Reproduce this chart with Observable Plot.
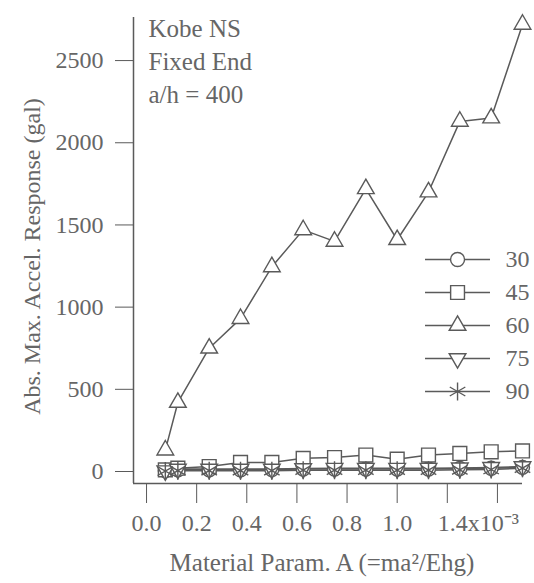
<!DOCTYPE html>
<html>
<head>
<meta charset="utf-8">
<script src="https://cdn.jsdelivr.net/npm/d3@7"></script>
<script src="https://cdn.jsdelivr.net/npm/@observablehq/plot@0.6"></script>
<style>
  html, body { margin: 0; padding: 0; background: #fff; }
  #wrap { position: relative; width: 534px; height: 583px; }
  #legend { position: absolute; left: 420px; top: 240px; }
  svg { font-family: "Liberation Serif", "DejaVu Serif", serif; }
</style>
</head>
<body>
<div id="wrap"><div id="chart"></div><div id="legend"></div></div>
<script>
// Material parameter A (x 10^-3)
const paramA = [0.075, 0.125, 0.25, 0.375, 0.5, 0.625, 0.75, 0.875, 1.0, 1.125, 1.25, 1.375, 1.5];
// Abs. max. acceleration response (gal) per angle
const series30 = [5, 10, 10, 10, 12, 15, 15, 15, 15, 15, 18, 20, 25];
const series45 = [10, 20, 30, 55, 55, 80, 85, 100, 75, 100, 110, 120, 125];
const series60 = [130, 420, 750, 930, 1245, 1470, 1400, 1720, 1410, 1700, 2130, 2150, 2720];
const series75 = [5, 15, 15, 15, 15, 18, 20, 20, 20, 20, 22, 25, 30];
const series90 = [3, 5, 5, 5, 5, 8, 8, 8, 8, 8, 10, 12, 20];

const seriesNames = ["30", "45", "60", "75", "90"];
const xTicks = [0, 0.2, 0.4, 0.6, 0.8, 1.0, 1.2, 1.4];
const xTickLabels = ["0.0", "0.2", "0.4", "0.6", "0.8", "1.0", "", ""];
const xLastTick = [1.4];
const xLastTickLabel = "1.4x10\u207B\u00B3";
const yTicks = [0, 500, 1000, 1500, 2000, 2500];
const noteLines = ["Kobe NS", "Fixed End", "a/h = 400"];
const xTitle = "Material Param. A (=ma\u00B2/Ehg)";
const yTitle = "Abs. Max. Accel. Response (gal)";

const xDomain = [-0.052, 1.5];
const yDomain = [-73, 2762];

const ink = "#5a5a5a";
const textInk = "#666";

const triangleDown = {
  draw(ctx, size) {
    const y = -Math.sqrt(size / (Math.sqrt(3) * 3));
    ctx.moveTo(0, -2 * y);
    ctx.lineTo(Math.sqrt(3) * y, y);
    ctx.lineTo(-Math.sqrt(3) * y, y);
    ctx.closePath();
  }
};

const seriesValues = {"30": series30, "45": series45, "60": series60, "75": series75, "90": series90};
const seriesSymbol = {"30": d3.symbolCircle, "45": d3.symbolSquare, "60": d3.symbolTriangle, "75": triangleDown, "90": d3.symbolAsterisk};
const seriesR = {"30": 7, "45": 7.8, "60": 6.2, "75": 6.2, "90": 8.5};

const rows = seriesNames.flatMap(s => paramA.map((a, i) => ({series: s, A: a, v: seriesValues[s][i]})));

const lineMarks = seriesNames.map(s =>
  Plot.line(rows.filter(d => d.series === s), {x: "A", y: "v", stroke: ink, strokeWidth: 1.5})
);
const dotMarks = seriesNames.map(s =>
  Plot.dot(rows.filter(d => d.series === s), {x: "A", y: "v", symbol: seriesSymbol[s], r: seriesR[s], fill: "white", stroke: ink, strokeWidth: 1.4})
);

const chart = Plot.plot({
  width: 534,
  height: 583,
  marginLeft: 133,
  marginRight: 12,
  marginTop: 17,
  marginBottom: 100,
  style: {fontFamily: "'Liberation Serif', serif", fontSize: "24px", color: textInk, background: "white"},
  x: {domain: xDomain},
  y: {domain: yDomain},
  marks: [
    Plot.ruleX([xDomain[0]], {stroke: ink, strokeWidth: 1.5}),
    Plot.ruleY([yDomain[0]], {stroke: ink, strokeWidth: 1.5}),
    Plot.axisY({ticks: yTicks, tickSize: 18, tickPadding: 12, stroke: ink, fill: textInk, fontSize: 24,
      tickFormat: d => String(d), label: null}),
    Plot.axisX({ticks: xTicks, tickSize: 20, tickPadding: 10, stroke: ink, fill: textInk, fontSize: 24,
      tickFormat: (d, i) => xTickLabels[i], label: null}),
    Plot.axisX({ticks: xLastTick, tickSize: 0, tickPadding: 30, fill: textInk, fontSize: 24, dx: -19,
      tickFormat: () => xLastTickLabel, label: null}),
    Plot.text([yTitle], {frameAnchor: "left", textAnchor: "middle", rotate: -90, dx: -101, dy: 6, fontSize: 24, fill: textInk}),
    Plot.text([xTitle], {frameAnchor: "bottom", textAnchor: "middle", dx: -6, dy: 87, fontSize: 25, fill: textInk}),
    ...lineMarks,
    ...dotMarks,
    Plot.text([noteLines.join("\n")], {frameAnchor: "top-left", dx: 15, dy: -4, textAnchor: "start", lineHeight: 1.32, fontSize: 25, fill: textInk})
  ]
});
document.getElementById("chart").appendChild(chart);

const legendRows = seriesNames.map(s => ({series: s}));
const legend = Plot.plot({
  width: 114,
  height: 170,
  marginLeft: 0, marginRight: 0, marginTop: 17, marginBottom: 18,
  style: {fontFamily: "'Liberation Serif', serif", fontSize: "24px", background: "transparent"},
  x: {domain: [0, 1], axis: null},
  y: {type: "point", domain: seriesNames, padding: 0, axis: null},
  marks: [
    Plot.ruleY(legendRows, {y: "series", x1: 0.044, x2: 0.614, stroke: ink, strokeWidth: 1.5}),
    ...seriesNames.map(s => Plot.dot(legendRows.filter(d => d.series === s), {x: 0.325, y: "series", symbol: seriesSymbol[s], r: seriesR[s], fill: "white", stroke: ink, strokeWidth: 1.4})),
    Plot.text(legendRows, {x: 0.746, y: "series", text: "series", textAnchor: "start", fill: textInk, fontSize: 24})
  ]
});
document.getElementById("legend").appendChild(legend);
</script>
</body>
</html>
